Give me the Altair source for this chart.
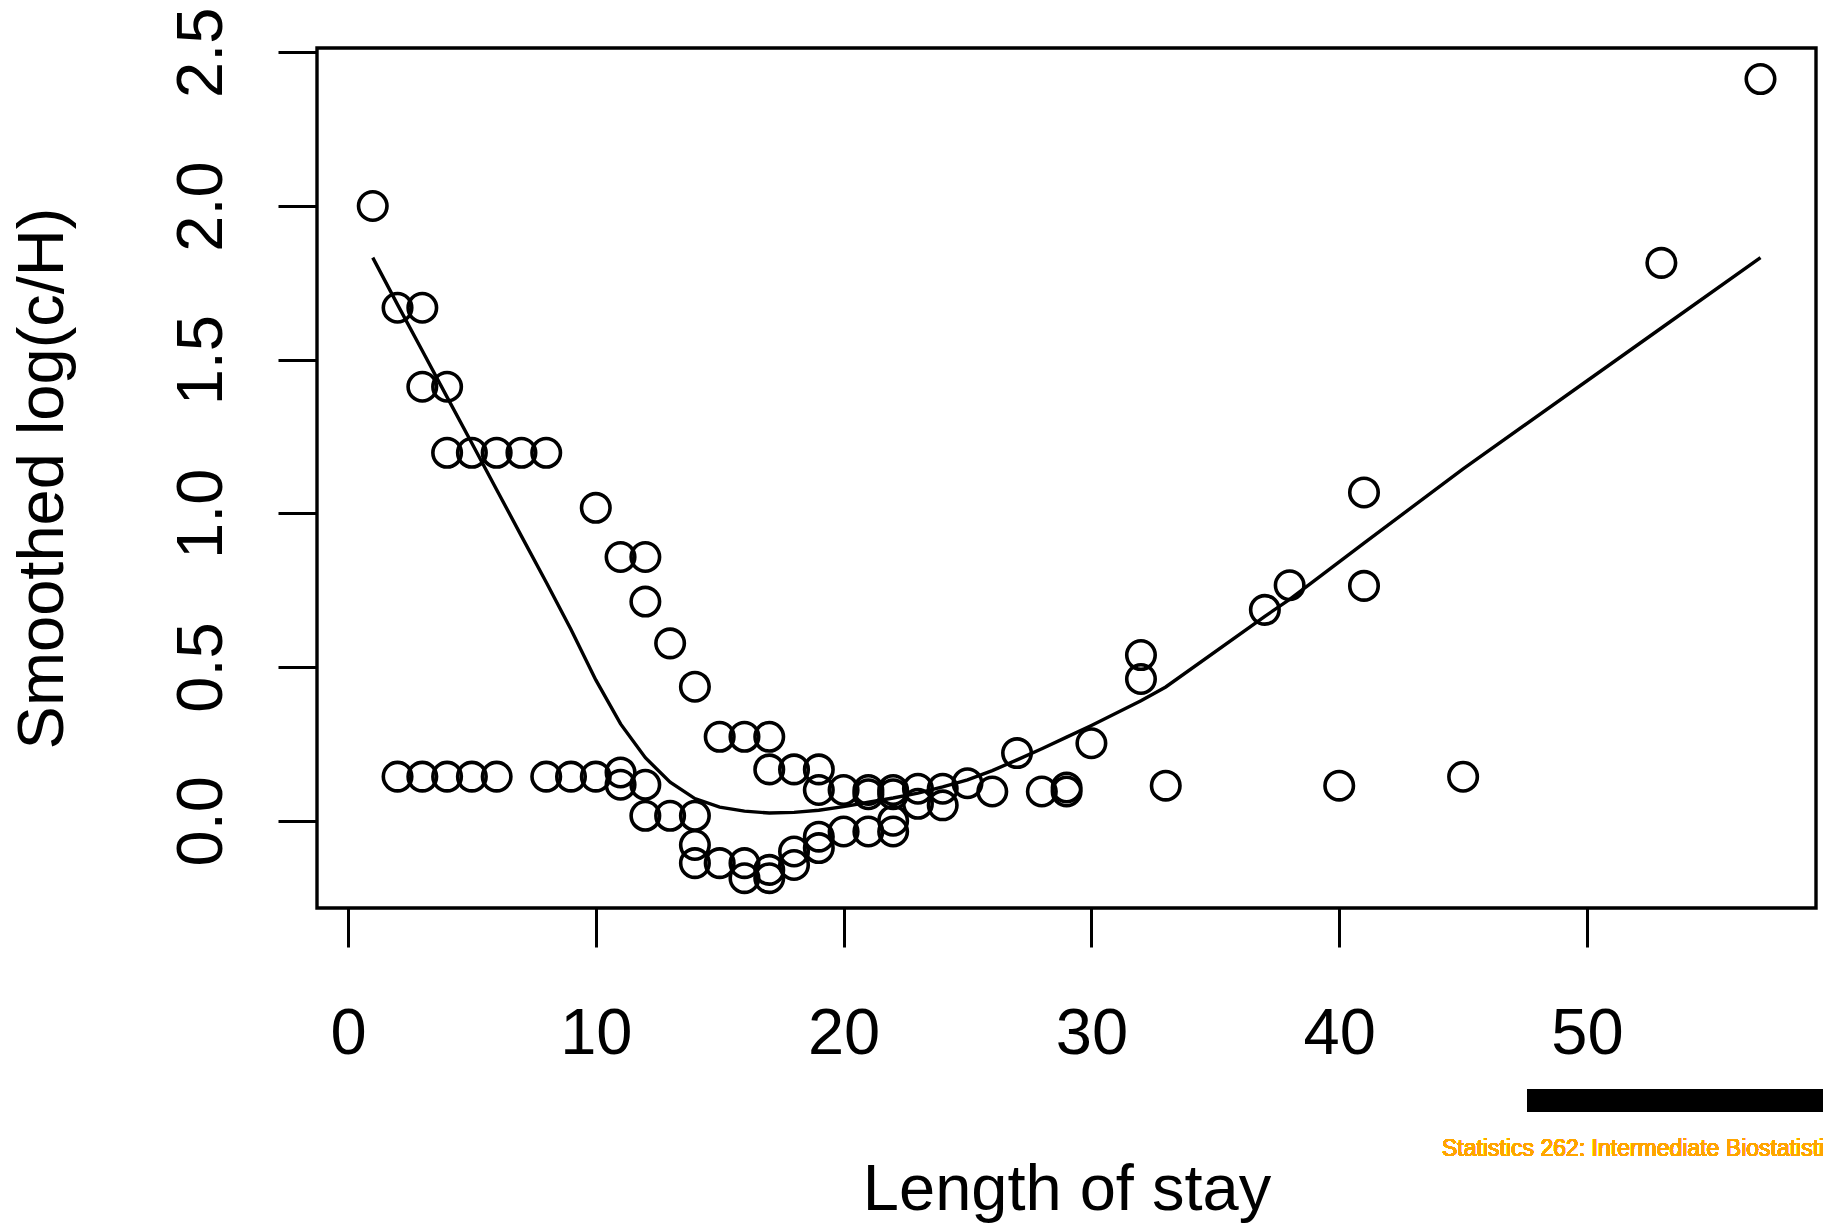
import altair as alt
import pandas as pd

# ---- data ----
pt_x = [1, 2, 3, 3, 4, 4, 5, 6, 7, 8, 10, 11, 12, 12, 13, 14,
        15, 16, 17, 17, 18, 19, 19, 20, 21, 22, 23, 24, 21, 22, 23, 24,
        25, 26, 27, 28, 29, 29, 30, 32, 32, 33, 37, 38, 40, 41, 41, 45, 53, 57,
        2, 3, 4, 5, 6, 8, 9, 10, 11, 11, 12,
        12, 13, 14, 14, 14, 15, 16, 16, 17, 17, 18, 18, 19, 19,
        20, 21, 22, 22]
pt_y = [2.00, 1.669, 1.669, 1.412, 1.412, 1.197, 1.197, 1.197, 1.197, 1.197, 1.018, 0.858, 0.858, 0.713, 0.577, 0.436,
        0.273, 0.273, 0.273, 0.167, 0.167, 0.167, 0.100, 0.100, 0.100, 0.100, 0.104, 0.104, 0.086, 0.086, 0.055, 0.050,
        0.122, 0.095, 0.220, 0.095, 0.108, 0.095, 0.252, 0.539, 0.461, 0.114, 0.686, 0.766, 0.114, 1.068, 0.764, 0.143, 1.815, 2.413,
        0.1435, 0.1435, 0.1435, 0.1435, 0.1435, 0.1435, 0.1435, 0.1435, 0.157, 0.117, 0.117,
        0.016, 0.016, 0.016, -0.079, -0.138, -0.138, -0.138, -0.187, -0.160, -0.187, -0.144, -0.100, -0.089, -0.052,
        -0.035, -0.035, -0.035, 0.000]

line_x = [1, 2, 3, 4, 5, 6, 7, 8, 9, 10, 11, 12, 13, 14, 15, 16, 17, 18, 19, 20,
          21, 22, 23, 24, 25, 26, 27, 28, 29, 30, 32, 33, 37, 38, 40, 41, 45, 53, 57]
line_y = [1.832, 1.679, 1.529, 1.378, 1.228, 1.077, 0.926, 0.776, 0.622, 0.458, 0.315, 0.205, 0.125, 0.072,
          0.044, 0.031, 0.025, 0.027, 0.034, 0.046, 0.060, 0.074, 0.090, 0.110, 0.133, 0.163, 0.198, 0.234,
          0.272, 0.310, 0.390, 0.435, 0.665, 0.720, 0.842, 0.903, 1.145, 1.603, 1.832]

x_ticks = [0, 10, 20, 30, 40, 50]
y_ticks = [0.0, 0.5, 1.0, 1.5, 2.0, 2.5]
x_title = "Length of stay"
y_title = "Smoothed log(c/H)"
footer = "Statistics 262: Intermediate Biostatistics"

pts = pd.DataFrame({"los": pt_x, "val": pt_y})
smooth = pd.DataFrame({"los": line_x, "val": line_y})

FONT = "Liberation Sans"
W, H = 1499, 860

x_enc = alt.X(
    "los:Q",
    scale=alt.Scale(domain=[-1.25, 59.24], nice=False, zero=False),
    axis=alt.Axis(
        values=x_ticks, domain=False, grid=False,
        tickSize=39, tickWidth=3, tickColor="black",
        labelFont=FONT, labelFontSize=65, labelColor="black",
        labelPadding=106, labelBaseline="alphabetic", labelFlush=False, labelOverlap=False,
        title=x_title, titleFont=FONT, titleFontSize=65, titleFontWeight="normal",
        titleColor="black", titleX=W / 2, titleY=301, titleAlign="center",
        titleBaseline="alphabetic",
    ),
)
y_enc = alt.Y(
    "val:Q",
    scale=alt.Scale(domain=[-0.284, 2.514], nice=False, zero=False),
    axis=alt.Axis(
        values=y_ticks, format=".1f", domain=False, grid=False,
        tickSize=39, tickWidth=3, tickColor="black",
        labelFont=FONT, labelFontSize=65, labelColor="black",
        labelAngle=270, labelAlign="center", labelBaseline="alphabetic",
        labelPadding=57, labelFlush=False, labelOverlap=False,
        title=y_title, titleFont=FONT, titleFontSize=65, titleFontWeight="normal",
        titleColor="black", titleAngle=270, titleX=-255, titleY=H / 2,
        titleAlign="center", titleBaseline="alphabetic",
    ),
)

points = alt.Chart(pts).mark_point(
    shape="circle", filled=False, size=810, strokeWidth=3.6, color="black", opacity=1
).encode(x=x_enc, y=y_enc)

curve = alt.Chart(smooth).mark_line(color="black", strokeWidth=3.4).encode(x=x_enc, y=y_enc)

bar = alt.Chart(pts).mark_rect(color="black").encode(
    x=alt.value(1210), x2=alt.value(1510), y=alt.value(1041), y2=alt.value(1064)
)

note = alt.Chart(pts).mark_text(
    text=footer, font=FONT, fontSize=23, color="#FFA500", align="left", baseline="alphabetic"
).encode(x=alt.value(1125), y=alt.value(1108))

chart = (
    alt.layer(curve, points, bar, note)
    .properties(
        width=W, height=H,
        autosize=alt.AutoSizeParams(type="none"),
        padding={"left": 317, "top": 48, "right": 7, "bottom": 317},
        background="white",
    )
    .configure_view(stroke="black", strokeWidth=3.4)
)

chart.save("out.html", embed_options={"renderer": "svg", "actions": False})
